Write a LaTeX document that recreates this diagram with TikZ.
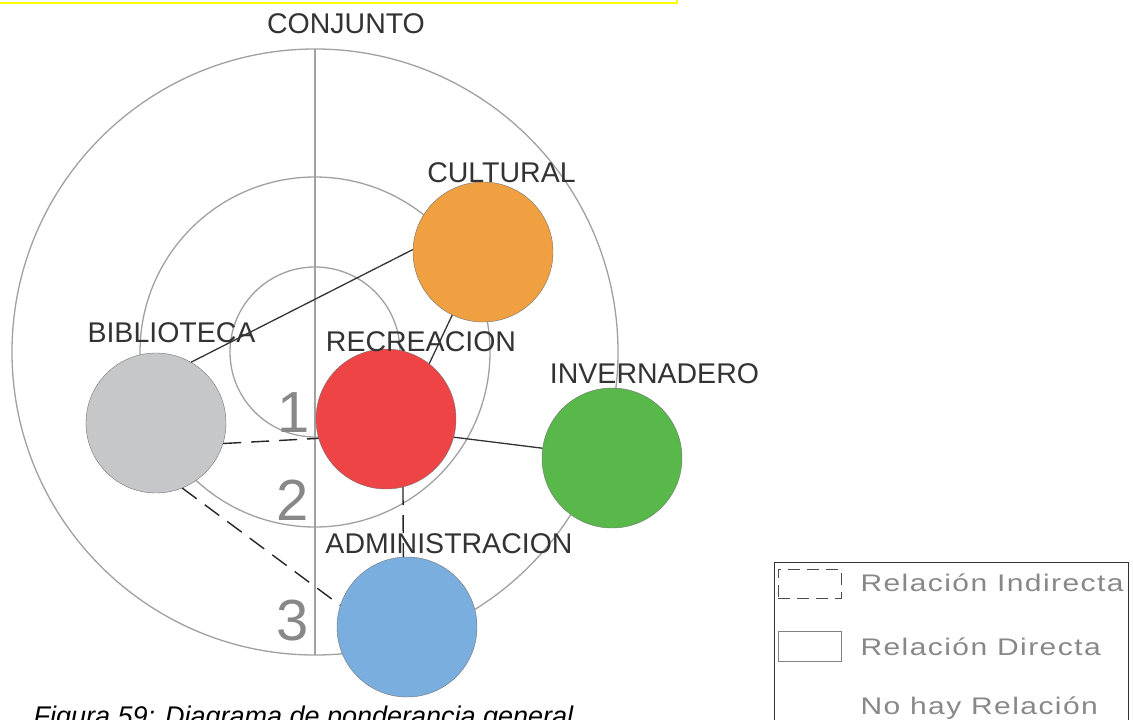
\documentclass[tikz,border=0pt]{standalone}
\usepackage{fontspec}
\setmainfont{Liberation Sans}
\newfontfamily\legendfont{Liberation Sans}[FakeStretch=1.25,LetterSpace=6]
\usetikzlibrary{arrows.meta,positioning,calc}
\definecolor{culturalorange}{HTML}{F0A040}
\definecolor{recred}{HTML}{EE4446}
\definecolor{bibgray}{HTML}{C6C7C9}
\definecolor{invgreen}{HTML}{58B94A}
\definecolor{admblue}{HTML}{7AAEDE}
\definecolor{ringgray}{HTML}{A0A0A0}
\definecolor{labelgray}{HTML}{888888}
\definecolor{markyellow}{HTML}{FFFF00}

\begin{document}
\begin{tikzpicture}[x=1pt,y=-1pt,
  ring/.style={draw=ringgray,line width=1.3pt},
  place/.style={circle,draw=black!55,line width=0.4pt,minimum size=140pt,inner sep=0pt},
  lbl/.style={anchor=base,text=black!80,font=\fontsize{28.5}{30}\selectfont},
  level/.style={anchor=base,text=labelgray,font=\fontsize{58}{60}\selectfont},
  legtext/.style={anchor=base west,text=labelgray,font=\legendfont\fontsize{24}{26}\selectfont},
  direct/.style={line width=1.3pt,black!80},
  indirect/.style={line width=1.4pt,black!85,dash pattern=on 18pt off 10pt}]
\useasboundingbox (0,0) rectangle (1133,720);

% marco amarillo superior
\draw[markyellow,line width=2pt] (-10,-20) rectangle (677,3);

% anillos de ponderacion
\coordinate (o) at (315,352);
\coordinate (ctop) at (315,49);
\coordinate (cbot) at (315,655);
\draw[ring] (o) circle[radius=85];
\draw[ring] (o) circle[radius=175];
\draw[ring] (o) circle[radius=303];
\draw[ring] (ctop) -- (cbot);

\node[lbl] (conjunto) at (346,33) {CONJUNTO};
\node[level] (n1) at (294,432) {1};
\node[level] (n2) at (293,520) {2};
\node[level] (n3) at (293,640) {3};

% espacios
\node[place,fill=culturalorange] (cultural) at (483,252) {};
\node[place,fill=recred] (recreacion) at (386,419) {};
\node[place,fill=bibgray] (biblioteca) at (156,423) {};
\node[place,fill=invgreen] (invernadero) at (612,458) {};
\node[place,fill=admblue] (administracion) at (407,627) {};

\node[lbl] (lcultural) at (501.5,182) {CULTURAL};
\node[lbl] (lbiblioteca) at (171.5,342) {BIBLIOTECA};
\node[lbl] (lrecreacion) at (421,351) {RECREACION};
\node[lbl] (linvernadero) at (654.5,383) {INVERNADERO};
\node[lbl] (ladministracion) at (449,553) {ADMINISTRACION};

% relaciones
\draw[direct] (biblioteca.60) -- (cultural.178);
\draw[direct] (cultural.244) -- (recreacion.52);
\draw[direct] (recreacion.-15) -- (invernadero.172);
\draw[indirect] (biblioteca.-17) -- (recreacion.196);
\draw[indirect] (recreacion.-76) -- (administracion.93);
\draw[indirect] (biblioteca.-68) -- (administracion.162);

% leyenda
\draw[black!80,line width=0.8pt] (774,562) rectangle (1128,740);
\node[draw=black!70,line width=0.8pt,dash pattern=on 12pt off 7pt,minimum width=63pt,
  minimum height=29pt,inner sep=0pt] (kindirect) at (809.5,583.5) {};
\node[draw=black!50,line width=0.8pt,minimum width=63pt,minimum height=30pt,
  inner sep=0pt] (kdirect) at (809.5,646) {};
\node[legtext] (tindirect) at (857,591) {Relación Indirecta};
\node[legtext] (tdirect) at (857,655) {Relación Directa};
\node[legtext] (tnone) at (857,714) {No hay Relación};

\node[anchor=base west,font=\itshape\fontsize{27}{29}\selectfont] (caption) at (30,725)
  {Figura 59: Diagrama de ponderancia general};
\end{tikzpicture}
\end{document}
